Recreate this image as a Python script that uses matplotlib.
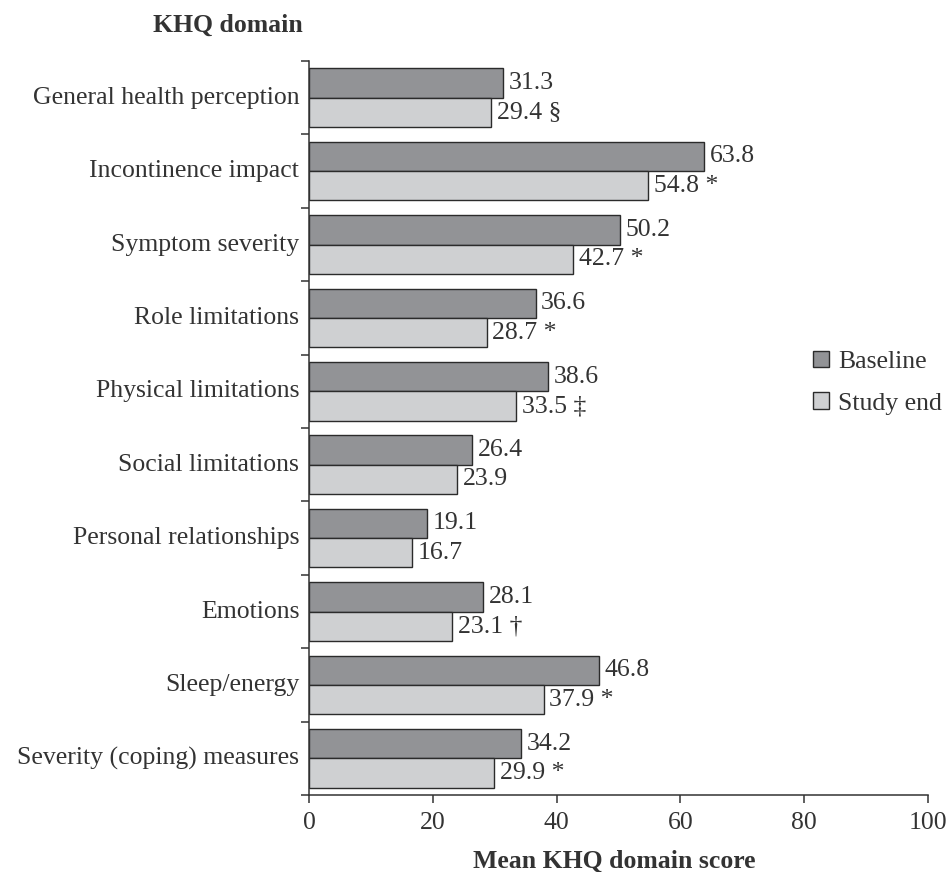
import numpy as np
import matplotlib.pyplot as plt

domains = ["General health perception", "Incontinence impact", "Symptom severity",
           "Role limitations", "Physical limitations", "Social limitations",
           "Personal relationships", "Emotions", "Sleep/energy",
           "Severity (coping) measures"]
baseline = [31.3, 63.8, 50.2, 36.6, 38.6, 26.4, 19.1, 28.1, 46.8, 34.2]
study_end = [29.4, 54.8, 42.7, 28.7, 33.5, 23.9, 16.7, 23.1, 37.9, 29.9]
study_end_marks = ["§", "*", "*", "*", "‡", "", "", "†", "*", "*"]
x_ticks = [0, 20, 40, 60, 80, 100]

ink = "#333333"
fs = 18.5
plt.rcParams["font.family"] = ["Liberation Serif", "DejaVu Serif"]
plt.rcParams["text.color"] = ink
plt.rcParams["axes.edgecolor"] = ink
plt.rcParams["xtick.color"] = ink
plt.rcParams["ytick.color"] = ink

fig = plt.figure(figsize=(9.48, 8.72), dpi=100)
ax = fig.add_axes([0.326, 0.0883, 0.653, 0.8417])

n = len(domains)
pos = np.arange(n)
h = 0.4
b1 = ax.barh(pos - h / 2, baseline, height=h, color="#929396", edgecolor="#2b2b2b",
             linewidth=1.0, label="Baseline")
b2 = ax.barh(pos + h / 2, study_end, height=h, color="#cfd0d2", edgecolor="#2b2b2b",
             linewidth=1.0, label="Study end")

# value labels just past the end of each bar
for y, v in zip(pos, baseline):
    ax.annotate(f"{v:.1f}", (v, y - h / 2), xytext=(4, 0), textcoords="offset points",
                va="center", ha="left", fontsize=fs)
for y, v, m in zip(pos, study_end, study_end_marks):
    txt = f"{v:.1f}" + (f" {m}" if m else "")
    ax.annotate(txt, (v, y + h / 2), xytext=(4, 0), textcoords="offset points",
                va="center", ha="left", fontsize=fs)

ax.set_ylim(n - 0.5, -0.5)
ax.set_xlim(0, 100)
ax.set_xticks(x_ticks)
ax.tick_params(axis="x", labelsize=fs, length=6, width=1.1, pad=6)

# category names centred on groups, ticks on group boundaries
ax.set_yticks(np.arange(-0.5, n, 1.0))
ax.set_yticklabels([])
ax.tick_params(axis="y", length=6, width=1.1)
for y, name in zip(pos, domains):
    ax.annotate(name, (0, y), xytext=(-7, 0), textcoords="offset points",
                ha="right", va="center", fontsize=fs)

for s in ["top", "right"]:
    ax.spines[s].set_visible(False)
ax.spines["left"].set_linewidth(1.1)
ax.spines["bottom"].set_linewidth(1.1)

fig.text(0.648, 0.0126, "Mean KHQ domain score", ha="center", va="center",
         fontsize=fs, fontweight="bold")
fig.text(0.319, 0.971, "KHQ domain", ha="right", va="center", fontsize=fs, fontweight="bold")

fig.legend(handles=[b1, b2], loc="center left", bbox_to_anchor=(0.858, 0.561),
           frameon=False, fontsize=fs, handlelength=0.6, handleheight=0.6,
           handletextpad=0.35, labelspacing=0.75, borderpad=0, borderaxespad=0)

fig.savefig("out.png", dpi=100, facecolor="white")
